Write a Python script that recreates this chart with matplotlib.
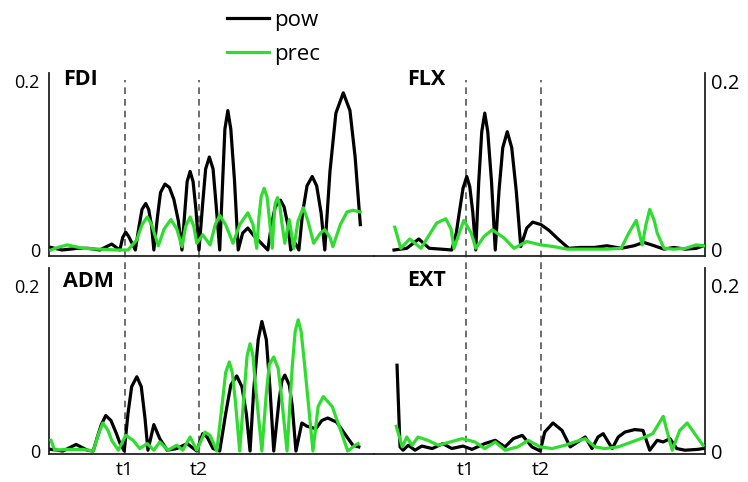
import matplotlib.pyplot as plt

plt.rcParams['font.family'] = ['Open Sans', 'DejaVu Sans']

# time axis in s, events at t1 = 1 and t2 = 2
event_times = [1.0, 2.0]
event_labels = ['t1', 't2']

# FDI
fdi_pow_t = [0.00, 0.15, 0.36, 0.50, 0.66, 0.82, 0.93, 0.97, 1.01, 1.05, 1.14,
             1.19, 1.23, 1.28, 1.32, 1.36, 1.39,
             1.44, 1.48, 1.54, 1.60, 1.66, 1.72, 1.77,
             1.81, 1.84, 1.88, 1.92, 1.96, 2.00,
             2.05, 2.09, 2.14, 2.19, 2.23, 2.28,
             2.32, 2.35, 2.39, 2.43, 2.48, 2.53,
             2.59, 2.66, 2.74, 2.82, 2.93,
             2.98, 3.03, 3.10, 3.15, 3.20, 3.24,
             3.30, 3.35,
             3.40, 3.46, 3.53, 3.59, 3.65, 3.70,
             3.77, 3.85, 3.95, 4.04, 4.11, 4.18]
fdi_pow = [0.003, 0.000, 0.002, 0.002, 0.000, 0.007, 0.000, 0.015, 0.021, 0.016, 0.000,
           0.028, 0.048, 0.055, 0.048, 0.028, 0.000,
           0.040, 0.068, 0.078, 0.074, 0.060, 0.035, 0.000,
           0.047, 0.081, 0.093, 0.081, 0.047, 0.000,
           0.055, 0.096, 0.110, 0.096, 0.055, 0.000,
           0.082, 0.143, 0.165, 0.143, 0.082, 0.000,
           0.020, 0.026, 0.017, 0.010, 0.000,
           0.030, 0.051, 0.059, 0.051, 0.030, 0.000,
           0.008, 0.000,
           0.044, 0.076, 0.087, 0.076, 0.044, 0.000,
           0.093, 0.162, 0.186, 0.165, 0.110, 0.030]
fdi_prec_t = [0.00, 0.09, 0.22, 0.43, 0.66, 0.89, 1.04, 1.16, 1.23, 1.30, 1.36, 1.45, 1.53, 1.62, 1.70,
              1.77, 1.82, 1.88, 1.93, 1.97, 2.05, 2.15, 2.22, 2.28, 2.36, 2.46, 2.55, 2.66, 2.73,
              2.78, 2.81, 2.84, 2.88, 2.92, 2.95, 2.99, 3.01, 3.03, 3.06, 3.09, 3.12, 3.16,
              3.22, 3.28, 3.34, 3.41, 3.47, 3.55, 3.64, 3.70, 3.77, 3.81, 3.91, 4.00, 4.08, 4.18]
fdi_prec = [0.000, 0.003, 0.006, 0.002, 0.001, 0.000, 0.000, 0.012, 0.030, 0.039, 0.030, 0.005, 0.025, 0.036, 0.025,
            0.004, 0.028, 0.039, 0.028, 0.008, 0.018, 0.006, 0.030, 0.041, 0.030, 0.008, 0.030, 0.044, 0.030,
            0.002, 0.038, 0.063, 0.073, 0.063, 0.038, 0.002, 0.033, 0.055, 0.062, 0.054, 0.032, 0.008,
            0.036, 0.002, 0.035, 0.050, 0.035, 0.008, 0.020, 0.024, 0.015, 0.004, 0.030, 0.045, 0.047, 0.045]

# FLX
flx_pow_t = [0.04, 0.21, 0.37, 0.51, 0.67, 0.81,
             0.87, 0.91, 0.96, 1.01, 1.05, 1.09, 1.13,
             1.17, 1.21, 1.25, 1.29, 1.34, 1.39,
             1.44, 1.49, 1.55, 1.61, 1.67, 1.73,
             1.81, 1.89, 2.00, 2.11, 2.24, 2.37, 2.53, 2.71, 2.88, 3.07,
             3.24, 3.37, 3.51, 3.64, 3.77, 3.93, 4.07, 4.17]
flx_pow = [0.000, 0.002, 0.013, 0.002, 0.001, 0.000,
           0.020, 0.044, 0.073, 0.087, 0.075, 0.045, 0.000,
           0.081, 0.140, 0.162, 0.140, 0.081, 0.000,
           0.070, 0.121, 0.140, 0.121, 0.070, 0.004,
           0.026, 0.033, 0.030, 0.023, 0.012, 0.002, 0.003, 0.003, 0.005, 0.002,
           0.005, 0.009, 0.005, 0.001, 0.003, 0.001, 0.002, 0.005]
flx_prec_t = [0.05, 0.13, 0.25, 0.40, 0.51, 0.61, 0.73, 0.80, 0.84, 0.91, 0.97, 1.07, 1.13, 1.24, 1.35,
              1.51, 1.64, 1.81, 2.00, 2.17, 2.35, 2.53, 2.71, 2.88, 3.07, 3.17, 3.27, 3.35, 3.40, 3.45,
              3.51, 3.55, 3.64, 3.77, 3.93, 4.07, 4.17]
flx_prec = [0.027, 0.002, 0.013, 0.002, 0.018, 0.032, 0.037, 0.025, 0.002, 0.020, 0.035, 0.020, 0.002, 0.016, 0.024,
            0.014, 0.002, 0.010, 0.006, 0.004, 0.001, 0.001, 0.001, 0.001, 0.002, 0.020, 0.035, 0.006, 0.030, 0.048,
            0.035, 0.020, 0.002, 0.001, 0.002, 0.006, 0.005]

# ADM
adm_pow_t = [0.00, 0.16, 0.34, 0.49, 0.57, 0.62, 0.68, 0.74, 0.81, 0.88, 0.93, 0.99, 1.04, 1.09, 1.16,
             1.22, 1.27, 1.31, 1.39, 1.47, 1.57, 1.70, 1.84, 1.97, 2.05, 2.11, 2.19, 2.28, 2.36, 2.43,
             2.51, 2.58, 2.64, 2.69, 2.74, 2.80, 2.85, 2.91, 2.96, 3.01, 3.08, 3.12, 3.16, 3.22, 3.26,
             3.31, 3.39, 3.46, 3.58, 3.66, 3.74, 3.86, 4.00, 4.08, 4.16]
adm_pow = [0.002, 0.000, 0.008, 0.001, 0.000, 0.015, 0.032, 0.043, 0.037, 0.022, 0.010, 0.000, 0.045, 0.078, 0.090,
           0.078, 0.040, 0.001, 0.032, 0.015, 0.001, 0.003, 0.009, 0.000, 0.021, 0.017, 0.003, 0.000, 0.045, 0.080,
           0.091, 0.078, 0.045, 0.000, 0.075, 0.135, 0.157, 0.135, 0.075, 0.000, 0.060, 0.085, 0.092, 0.080, 0.055,
           0.000, 0.034, 0.030, 0.027, 0.037, 0.040, 0.035, 0.017, 0.007, 0.005]
adm_prec_t = [0.00, 0.05, 0.22, 0.43, 0.57, 0.64, 0.70, 0.77, 0.82, 0.91, 1.01, 1.11, 1.20, 1.30, 1.39,
              1.47, 1.58, 1.70, 1.78, 1.88, 1.97, 2.08, 2.15, 2.24, 2.32, 2.36, 2.41, 2.45, 2.49, 2.55,
              2.62, 2.65, 2.69, 2.73, 2.76, 2.85, 2.91, 2.95, 3.01, 3.07, 3.11, 3.19, 3.26, 3.30, 3.34,
              3.38, 3.43, 3.54, 3.61, 3.68, 3.80, 3.93, 4.01, 4.11, 4.15]
adm_prec = [0.013, 0.001, 0.002, 0.002, 0.000, 0.020, 0.034, 0.025, 0.013, 0.001, 0.019, 0.013, 0.003, 0.009, 0.001,
            0.011, 0.001, 0.007, 0.001, 0.017, 0.001, 0.023, 0.019, 0.000, 0.062, 0.095, 0.108, 0.095, 0.062, 0.000,
            0.082, 0.115, 0.130, 0.115, 0.082, 0.000, 0.070, 0.105, 0.114, 0.100, 0.070, 0.000, 0.102, 0.145, 0.159,
            0.145, 0.102, 0.000, 0.054, 0.066, 0.054, 0.021, 0.000, 0.007, 0.009]

# EXT
ext_pow_t = [0.08, 0.12, 0.16, 0.23, 0.32, 0.41, 0.55, 0.69, 0.81, 0.96, 1.08, 1.25, 1.39, 1.52, 1.63,
             1.75, 1.88, 1.99, 2.05, 2.16, 2.28, 2.39, 2.49, 2.59, 2.68, 2.76, 2.83, 2.95, 3.03, 3.12,
             3.25, 3.36, 3.45, 3.55, 3.63, 3.72, 3.81, 3.92, 4.09, 4.16]
ext_pow = [0.104, 0.005, 0.001, 0.007, 0.001, 0.006, 0.003, 0.009, 0.003, 0.006, 0.002, 0.009, 0.013, 0.005, 0.015,
           0.019, 0.005, 0.000, 0.023, 0.034, 0.025, 0.005, 0.011, 0.017, 0.003, 0.017, 0.021, 0.003, 0.017, 0.023,
           0.026, 0.025, 0.001, 0.013, 0.011, 0.015, 0.003, 0.001, 0.002, 0.003]
ext_prec_t = [0.07, 0.15, 0.21, 0.28, 0.36, 0.49, 0.63, 0.79, 0.95, 1.12, 1.25, 1.39, 1.52, 1.69, 1.83,
              1.99, 2.15, 2.32, 2.45, 2.59, 2.72, 2.85, 3.03, 3.21, 3.39, 3.49, 3.63, 3.69, 3.75, 3.85,
              3.95, 4.05, 4.16]
ext_prec = [0.030, 0.005, 0.017, 0.007, 0.017, 0.013, 0.007, 0.011, 0.015, 0.011, 0.003, 0.011, 0.001, 0.005, 0.013,
            0.005, 0.003, 0.007, 0.011, 0.015, 0.005, 0.003, 0.005, 0.011, 0.017, 0.021, 0.042, 0.021, 0.001, 0.025,
            0.034, 0.021, 0.007]

POW_COLOR = 'black'
PREC_COLOR = '#2fdc2f'
SPINE_COLOR = '#222222'

fig = plt.figure(figsize=(7.48, 4.82), dpi=100)

# name, pow, prec, rect, y-axis side, xlim, ylim, title position, bottom row?
panels = [
    ('FDI', (fdi_pow_t, fdi_pow), (fdi_prec_t, fdi_prec), [0.0655, 0.4689, 0.4345, 0.3797], 'left',
     (-0.027, 4.365), (-0.0071, 0.2095), (0.043, 0.962), False),
    ('FLX', (flx_pow_t, flx_pow), (flx_prec_t, flx_prec), [0.5, 0.4689, 0.4425, 0.3797], 'right',
     (-0.227, 4.187), (-0.0071, 0.2095), (0.10, 0.962), False),
    ('ADM', (adm_pow_t, adm_pow), (adm_prec_t, adm_prec), [0.0655, 0.0581, 0.4345, 0.3859], 'left',
     (-0.027, 4.365), (-0.0036, 0.2218), (0.043, 0.93), True),
    ('EXT', (ext_pow_t, ext_pow), (ext_prec_t, ext_prec), [0.5, 0.0581, 0.4425, 0.3859], 'right',
     (-0.227, 4.187), (-0.0036, 0.2218), (0.10, 0.935), True),
]

for name, pw, pr, rect, side, xlim, ylim, tpos, bottom in panels:
    ax = fig.add_axes(rect)
    ax.patch.set_alpha(0)
    ax.set_xlim(*xlim)
    ax.set_ylim(*ylim)

    # dashed event markers; top row extends down into the gap between rows
    for t in event_times:
        if bottom:
            ax.axvline(t, ymin=0, ymax=1, color='#555555', lw=1.2, ls=(0, (4, 3)), zorder=1)
        else:
            ax.axvline(t, ymin=-0.07, ymax=0.96, color='#555555', lw=1.2, ls=(0, (4, 3)),
                       zorder=1, clip_on=False)

    ax.plot(pw[0], pw[1], color=POW_COLOR, lw=2.3, zorder=3, solid_joinstyle='round')
    ax.plot(pr[0], pr[1], color=PREC_COLOR, lw=2.3, zorder=4, solid_joinstyle='round')

    ax.text(tpos[0], tpos[1], name, transform=ax.transAxes, ha='left', va='center',
            fontsize=15.5, fontweight='bold')

    for s in ['top', 'left', 'right', 'bottom']:
        ax.spines[s].set_visible(False)
    ax.spines['bottom'].set_visible(True)
    ax.spines[side].set_visible(True)
    for s in ['bottom', side]:
        ax.spines[s].set_color(SPINE_COLOR)
        ax.spines[s].set_linewidth(1.3)

    ax.set_yticks([0, 0.2])
    if side == 'right':
        ax.set_yticklabels(['0', '0.2'], fontsize=14.5)
        ax.yaxis.tick_right()
        ax.tick_params(axis='y', length=0, pad=4.5)
    else:
        ax.set_yticklabels(['0', '0.2'], fontsize=13)
        ax.tick_params(axis='y', length=0, pad=6.5)

    if bottom:
        ax.set_xticks(event_times)
        ax.set_xticklabels(event_labels, fontsize=14)
        ax.tick_params(axis='x', length=0, pad=5)
    else:
        ax.set_xticks([])

handles = [plt.Line2D([], [], color=POW_COLOR, lw=2.3),
           plt.Line2D([], [], color=PREC_COLOR, lw=2.3)]
fig.legend(handles, ['pow', 'prec'], loc='upper left', bbox_to_anchor=(0.303, 0.98),
           frameon=False, fontsize=16, handlelength=1.9, handletextpad=0.25,
           labelspacing=0.6, borderpad=0, borderaxespad=0)

fig.savefig('out.png', dpi=100)
